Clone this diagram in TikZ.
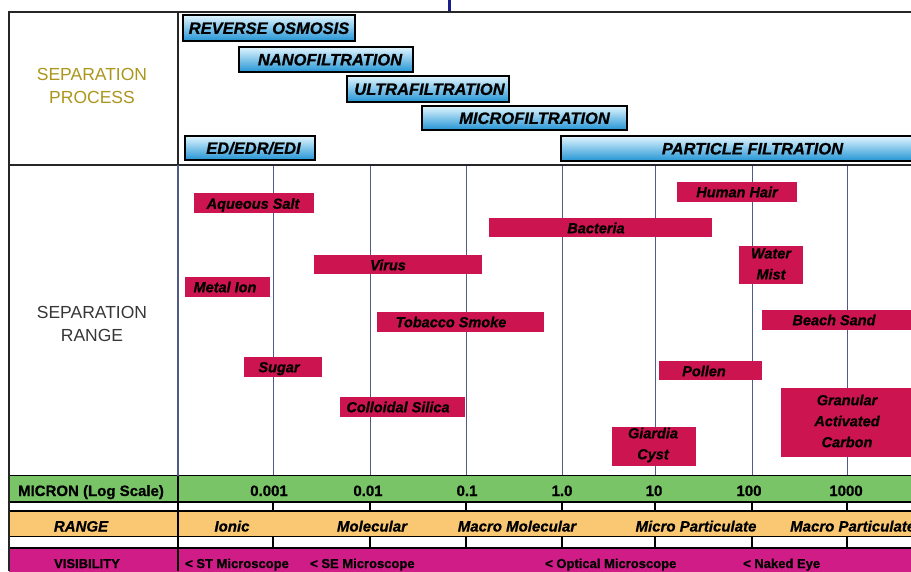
\documentclass[tikz,border=0pt]{standalone}
\usepackage{fontspec}
\setmainfont{Liberation Sans}[BoldFeatures={FakeBold=0.8},BoldItalicFeatures={FakeBold=0.8}]
\definecolor{crim}{RGB}{204,20,80}
\definecolor{grn}{RGB}{122,196,104}
\definecolor{org}{RGB}{250,200,115}
\definecolor{mag}{RGB}{208,28,134}
\definecolor{bluetop}{RGB}{225,246,255}
\definecolor{bluebot}{RGB}{35,148,212}
\definecolor{gold}{RGB}{172,150,28}
\definecolor{gridc}{RGB}{80,92,135}
\definecolor{stubc}{RGB}{25,30,140}
\definecolor{hdrgray}{RGB}{55,55,55}
\tikzset{
  proc/.style={draw=black, line width=1.6pt, top color=bluetop, bottom color=bluebot, inner sep=0pt},
  ptxt/.style={font=\fontsize{16.5}{18}\selectfont\bfseries\itshape, text=black, inner sep=0pt, text height=11.8pt, text depth=0pt},
  cbox/.style={fill=crim, inner sep=0pt},
  ctxt/.style={font=\fontsize{14.5}{21}\selectfont\bfseries\itshape, text=black, inner sep=0pt, text height=10.4pt, text depth=0pt},
  ctxtm/.style={font=\fontsize{14.5}{21}\selectfont\bfseries\itshape, text=black, inner sep=0pt, align=center},
  gridline/.style={draw=gridc, line width=0.9pt},
  frameline/.style={draw=black!85, line width=1.3pt},
  bandline/.style={draw=black, line width=1.4pt},
  tick/.style={draw=black, line width=1.4pt},
  btxt/.style={font=\fontsize{15}{18}\selectfont\bfseries, text=black, inner sep=0pt, anchor=base},
  itxt/.style={font=\fontsize{15}{18}\selectfont\bfseries\itshape, text=black, inner sep=0pt, anchor=base},
  vtxt/.style={font=\fontsize{13}{16}\selectfont\bfseries, text=black, inner sep=0pt, anchor=base west},
  hdr/.style={font=\fontsize{17.5}{22.5}\selectfont, align=center, inner sep=0pt}
}
\begin{document}
\begin{tikzpicture}[x=1pt,y=-1pt]
\useasboundingbox (0,0) rectangle (911,571);
\begin{scope}
\clip (0,0) rectangle (911,571);
\fill[white] (0,0) rectangle (911,571);
% stub at top
\fill[stubc] (447.5,0) rectangle (450.5,12);
% chart grid lines
\foreach \gx in {273,370,466,562,655,752,847}
  \draw[gridline] (\gx,165) -- (\gx,475);
% bottom bands
\fill[grn] (9,476) rectangle (911,502);
\fill[org] (9,511) rectangle (911,536.5);
\fill[mag] (9,548) rectangle (911,575);
\foreach \by in {475.5,502,511,536.5,548}
  \draw[bandline] (9,\by) -- (911,\by);
\foreach \gx in {273,370,466,562,655,752,847} {
  \draw[tick] (\gx,502) -- (\gx,511);
  \draw[tick] (\gx,536.5) -- (\gx,548);
}
% frame
\draw[frameline] (9,571) -- (9,12) -- (911,12);
\draw[frameline] (9,165) -- (911,165);
\draw[frameline] (178,12) -- (178,165);
\draw[draw=gridc, line width=1.1pt] (178,165) -- (178,475.5);
\draw[draw=black, line width=2pt] (177.5,475.5) -- (177.5,571);
% headers
\node[hdr, text=gold] (hproc) at (92,86) {SEPARATION\\PROCESS};
\node[hdr, text=hdrgray] (hrange) at (92,324) {SEPARATION\\RANGE};
% process boxes
\node[proc, minimum width=172pt, minimum height=26pt] (ro) at (269,28) {};
\node[ptxt] (rot) at (269,28) {REVERSE OSMOSIS};
\node[proc, minimum width=174pt, minimum height=25pt] (nf) at (326,59.5) {};
\node[ptxt] (nft) at (330,59.5) {NANOFILTRATION};
\node[proc, minimum width=162pt, minimum height=26pt] (uf) at (428,89) {};
\node[ptxt] (uft) at (429.5,89) {ULTRAFILTRATION};
\node[proc, minimum width=205pt, minimum height=24pt] (mf) at (524.5,118) {};
\node[ptxt] (mft) at (534.5,118) {MICROFILTRATION};
\node[proc, minimum width=130pt, minimum height=24pt] (ed) at (250,148) {};
\node[ptxt] (edt) at (253.5,148) {ED/EDR/EDI};
\node[proc, minimum width=382pt, minimum height=25pt] (pf) at (752,148.5) {};
\node[ptxt] (pft) at (752.5,148.5) {PARTICLE FILTRATION};
% separation range boxes
\node[cbox, minimum width=120pt, minimum height=20pt] (aq) at (254,203) {};
\node[ctxt] (aqt) at (253,203.5) {Aqueous Salt};
\node[cbox, minimum width=223pt, minimum height=19pt] (ba) at (600.5,227.5) {};
\node[ctxt] (bat) at (596,228) {Bacteria};
\node[cbox, minimum width=168pt, minimum height=19pt] (vi) at (398,264.5) {};
\node[ctxt] (vit) at (388,265) {Virus};
\node[cbox, minimum width=85pt, minimum height=20pt] (me) at (227.5,287) {};
\node[ctxt] (met) at (225,287) {Metal Ion};
\node[cbox, minimum width=167pt, minimum height=20pt] (to) at (460.5,322) {};
\node[ctxt] (tot) at (451,322) {Tobacco Smoke};
\node[cbox, minimum width=78pt, minimum height=20pt] (su) at (283,367) {};
\node[ctxt] (sut) at (279,367) {Sugar};
\node[cbox, minimum width=125pt, minimum height=20pt] (co) at (402.5,407) {};
\node[ctxt] (cot) at (398,407) {Colloidal Silica};
\node[cbox, minimum width=120pt, minimum height=20pt] (hh) at (737,192) {};
\node[ctxt] (hht) at (737,192) {Human Hair};
\node[cbox, minimum width=64pt, minimum height=38pt] (wm) at (771,265) {};
\node[ctxtm] (wmt) at (771,264) {Water\\Mist};
\node[cbox, minimum width=168pt, minimum height=20pt] (bs) at (846,320) {};
\node[ctxt] (bst) at (834,320) {Beach Sand};
\node[cbox, minimum width=103pt, minimum height=19pt] (po) at (710.5,370.5) {};
\node[ctxt] (pot) at (704,371) {Pollen};
\node[cbox, minimum width=149pt, minimum height=69pt] (ga) at (855.5,422.5) {};
\node[ctxtm] (gat) at (847,421) {Granular\\Activated\\Carbon};
\node[cbox, minimum width=84pt, minimum height=39pt] (gi) at (654,446.5) {};
\node[ctxtm] (git) at (653,445) {Giardia\\Cyst};
% micron row
\node[btxt] (mic) at (91,496) {MICRON (Log Scale)};
\node[btxt] (n1) at (269,496) {0.001};
\node[btxt] (n2) at (368,496) {0.01};
\node[btxt] (n3) at (467,496) {0.1};
\node[btxt] (n4) at (562,496) {1.0};
\node[btxt] (n5) at (654,496) {10};
\node[btxt] (n6) at (749,496) {100};
\node[btxt] (n7) at (846,496) {1000};
% range row
\node[itxt] (rng) at (81,531.5) {RANGE};
\node[itxt] (r1) at (232,531.5) {Ionic};
\node[itxt] (r2) at (372,531.5) {Molecular};
\node[itxt] (r3) at (517,531.5) {Macro Molecular};
\node[itxt] (r4) at (696,531.5) {Micro Particulate};
\node[itxt, anchor=base west] (r5) at (790,531.5) {Macro Particulate};
% visibility row
\node[vtxt, anchor=base] (vis) at (87,568) {VISIBILITY};
\node[vtxt] (v1) at (185,568) {< ST Microscope};
\node[vtxt] (v2) at (310,568) {< SE Microscope};
\node[vtxt] (v3) at (545,568) {< Optical Microscope};
\node[vtxt] (v4) at (743,568) {< Naked Eye};
\end{scope}
\end{tikzpicture}
\end{document}
